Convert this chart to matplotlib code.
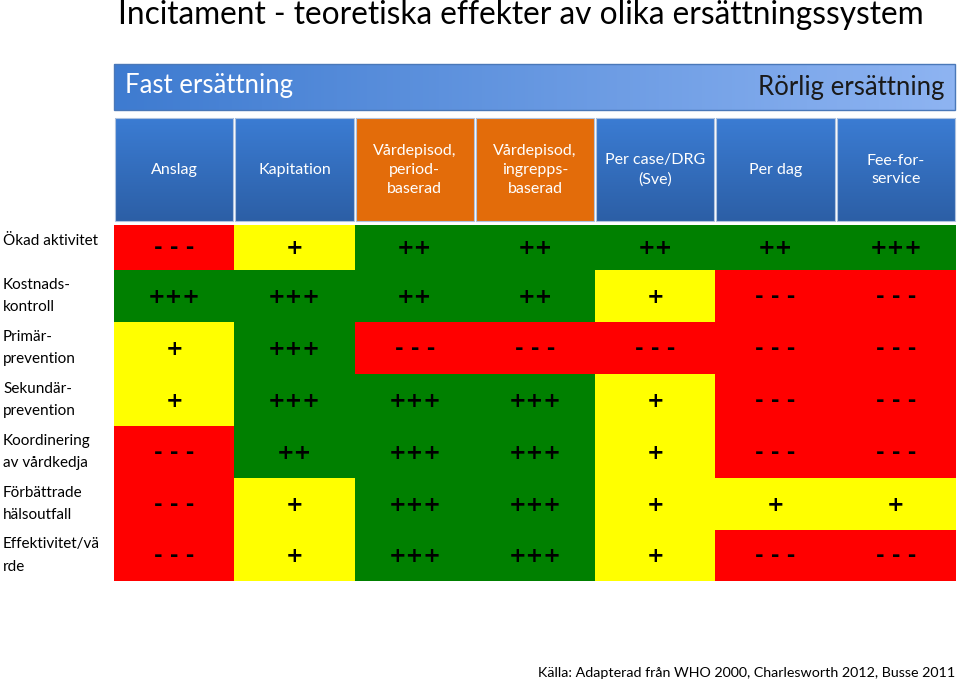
import matplotlib
matplotlib.use("Agg")
import matplotlib.pyplot as plt
import numpy as np
from matplotlib.patches import Rectangle
from matplotlib.colors import LinearSegmentedColormap

plt.rcParams['font.family'] = ['Lato', 'DejaVu Sans']

title = "Incitament - teoretiska effekter av olika ersättningssystem"
left_label = "Fast ersättning"
right_label = "Rörlig ersättning"
source = "Källa: Adapterad från WHO 2000, Charlesworth 2012, Busse 2011"

columns = ["Anslag", "Kapitation", "Vårdepisod,\nperiod-\nbaserad",
           "Vårdepisod,\ningrepps-\nbaserad", "Per case/DRG\n(Sve)", "Per dag",
           "Fee-for-\nservice"]
column_group = ["blue", "blue", "orange", "orange", "blue", "blue", "blue"]

rows = ["Ökad aktivitet", "Kostnads-\nkontroll", "Primär-\nprevention",
        "Sekundär-\nprevention", "Koordinering\nav vårdkedja",
        "Förbättrade\nhälsoutfall", "Effektivitet/vä\nrde"]

# effect scores: -3 = "- - -", 1 = "+", 2 = "++", 3 = "+++"
effects = np.array([
    [-3, 1, 2, 2, 2, 2, 3],
    [3, 3, 2, 2, 1, -3, -3],
    [1, 3, -3, -3, -3, -3, -3],
    [1, 3, 3, 3, 1, -3, -3],
    [-3, 2, 3, 3, 1, -3, -3],
    [-3, 1, 3, 3, 1, 1, 1],
    [-3, 1, 3, 3, 1, -3, -3],
])

symbols = {-3: "- - -", 1: "+", 2: "++", 3: "+++"}
cell_colors = {-3: "#FF0000", 1: "#FFFF00", 2: "#008000", 3: "#008000"}

fig = plt.figure(figsize=(9.6, 6.83), dpi=100)
ax = fig.add_axes([0, 0, 1, 1])
ax.set_xlim(0, 960)
ax.set_ylim(683, 0)
ax.axis('off')

ax.text(118, 15, title, fontsize=22.8, va='center', ha='left', color='black')

# top gradient bar
grad = np.linspace(0, 1, 256).reshape(1, -1)
bar_cmap = LinearSegmentedColormap.from_list("bar", ["#3E7BD0", "#8EB4F2"])
ax.imshow(grad, cmap=bar_cmap, extent=[114, 955, 110, 64], aspect='auto', zorder=1)
ax.add_patch(Rectangle((114, 64), 841, 46, fill=False, ec="#4A78B8", lw=1, zorder=2))
ax.text(125, 86, left_label, fontsize=18.5, color='white', va='center', ha='left', zorder=3)
ax.text(944, 87, right_label, fontsize=18.5, color='#1A1A1A', va='center', ha='right', zorder=3)

# table geometry
x0, x1 = 114, 956
ncol = len(columns)
cw = (x1 - x0) / ncol
row_edges = [225, 270, 322, 374, 426, 478, 530, 581]

# header boxes
vgrad = np.linspace(0, 1, 128).reshape(-1, 1)
blue_cmap = LinearSegmentedColormap.from_list("hb", ["#3B7CD3", "#2C5FA6"])
for j, (name, grp) in enumerate(zip(columns, column_group)):
    bx = x0 + j * cw
    if grp == "blue":
        ax.imshow(vgrad, cmap=blue_cmap, extent=[bx + 1, bx + cw - 1, 221, 118],
                  aspect='auto', zorder=1)
    else:
        ax.add_patch(Rectangle((bx + 1, 118), cw - 2, 103, fc="#E36C0A", ec="none", zorder=1))
    ax.add_patch(Rectangle((bx + 1, 118), cw - 2, 103, fill=False, ec="#AFC3DF", lw=0.8, zorder=2))
    ax.text(bx + cw / 2, 170, name, fontsize=11.5, color='white', ha='center', va='center',
            linespacing=1.45, zorder=3)

# cells
for i, label in enumerate(rows):
    top, bottom = row_edges[i], row_edges[i + 1]
    for j in range(ncol):
        v = effects[i, j]
        cx = x0 + j * cw
        ax.add_patch(Rectangle((cx, top), cw, bottom - top, fc=cell_colors[v], ec='none', zorder=1))
        ax.text(cx + cw / 2, (top + bottom) / 2 + 1, symbols[v], fontsize=15, fontweight='bold',
                family='DejaVu Sans', ha='center', va='center', color='black', zorder=3)
    ly = (top + bottom) / 2 if "\n" in label else 241
    ax.text(3, ly, label, fontsize=11, ha='left', va='center', linespacing=1.75, color='black')

ax.text(955, 673, source, fontsize=10.3, ha='right', va='center', color='black')

fig.savefig("out.png", dpi=100)
